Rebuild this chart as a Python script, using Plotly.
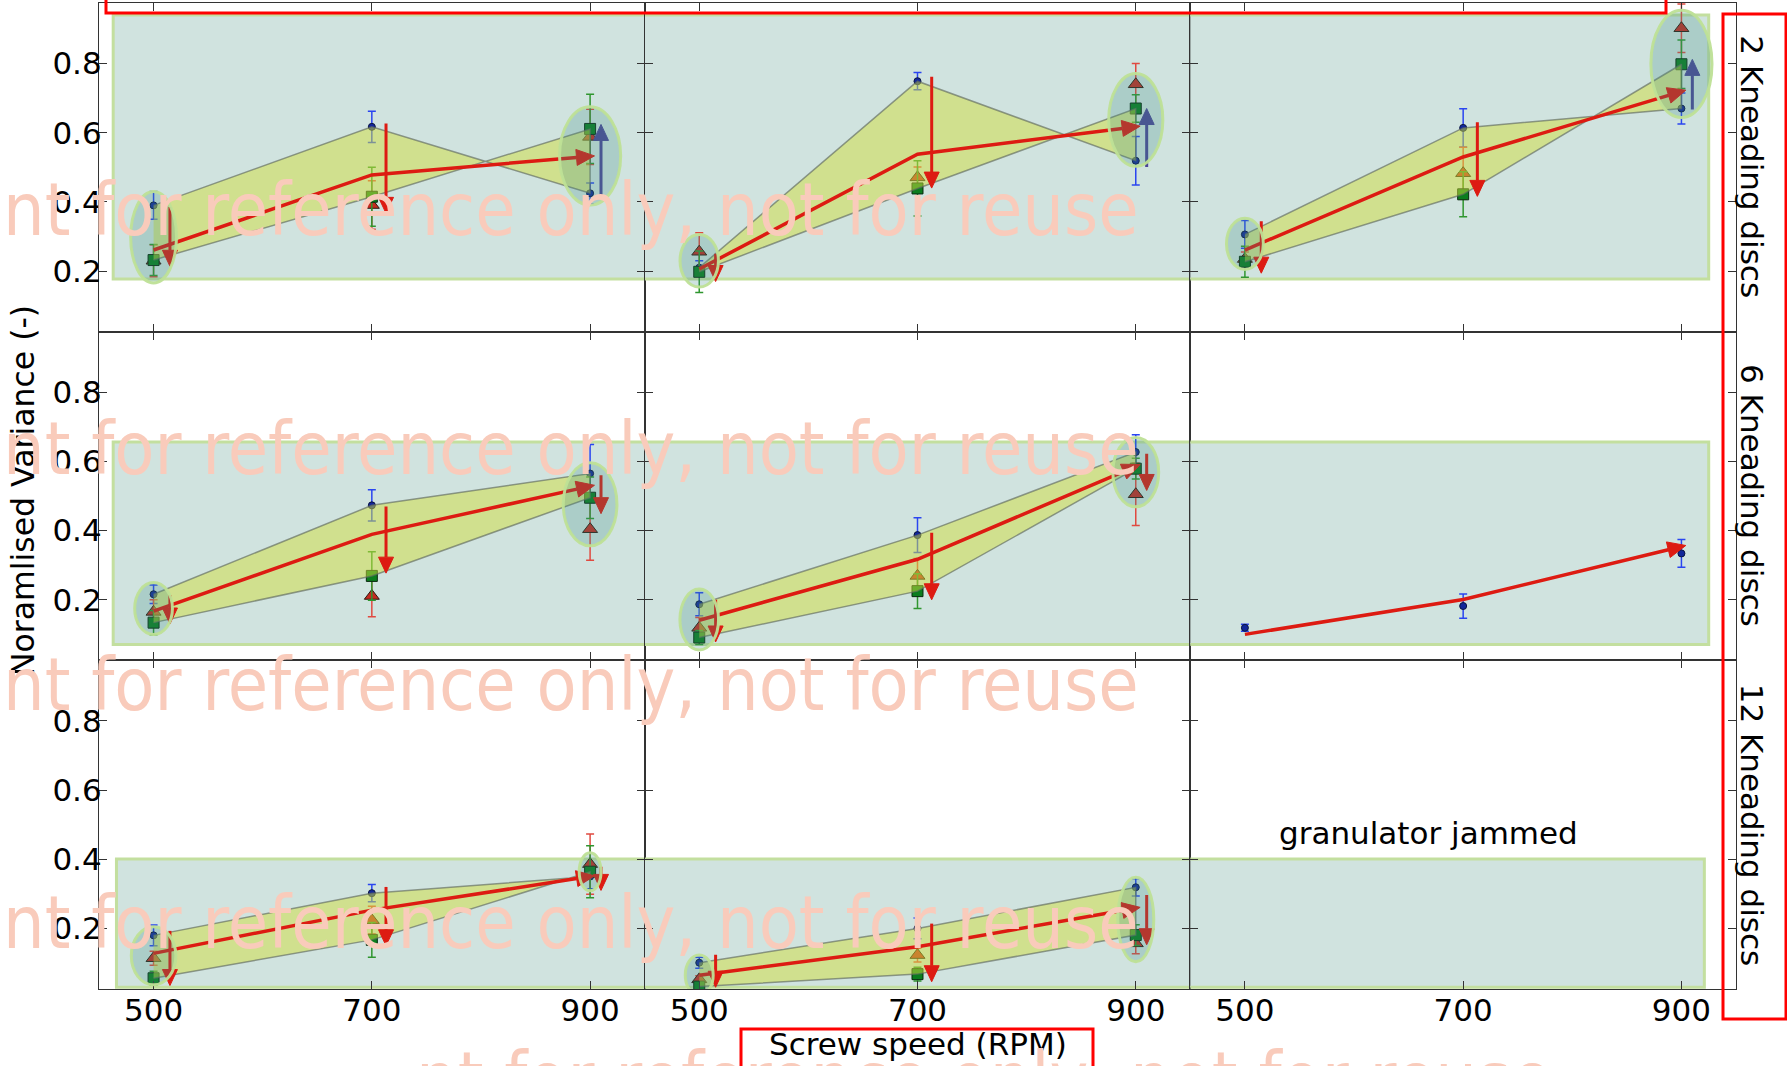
import math
import plotly.graph_objects as go
from plotly.subplots import make_subplots

# ---------------- data ----------------
speeds = [500, 700, 900]
row_labels = ["2 Kneading discs", "6 Kneading discs", "12 Kneading discs"]
y_ticks = [0.2, 0.4, 0.6, 0.8]
x_title = "Screw speed (RPM)"
y_title = "Noramlised Variance (-)"
jam_text = "granulator jammed"
watermark = "nt for reference only, not for reuse"

# panel order: row1 c1,c2,c3 ; row2 c1,c2,c3 ; row3 c1,c2  (row3 c3 = jammed)
panel_row = [0, 0, 0, 1, 1, 1, 2, 2]
panel_col = [0, 1, 2, 0, 1, 2, 0, 1]

blue_vals = [[0.390, 0.617, 0.425], [0.210, 0.749, 0.519], [0.306, 0.614, 0.670],
             [0.216, 0.473, 0.565], [0.187, 0.387, 0.627], [0.119, 0.182, 0.334],
             [0.180, 0.302, 0.350], [0.101, 0.200, 0.319]]
blue_err = [[0.040, 0.045, 0.030], [0.020, 0.025, 0.070], [0.040, 0.055, 0.045],
            [0.027, 0.045, 0.084], [0.033, 0.050, 0.050], [0.010, 0.035, 0.040],
            [0.030, 0.025, 0.035], [0.016, 0.030, 0.025]]
red_vals = [[0.230, 0.391, 0.588], [0.256, 0.471, 0.740], [0.235, 0.483, 0.902],
            [0.165, 0.211, 0.404], [0.119, 0.269, 0.505], None,
            [0.114, 0.224, 0.386], [0.053, 0.123, 0.157]]
red_err = [[0.046, 0.070, 0.080], [0.055, 0.030, 0.060], [0.020, 0.075, 0.070],
           [0.035, 0.060, 0.090], [0.030, 0.050, 0.090], None,
           [0.020, 0.040, 0.087], [0.010, 0.020, 0.030]]
green_vals = [[0.232, 0.415, 0.611], [0.198, 0.439, 0.670], [0.227, 0.422, 0.798],
              [0.134, 0.269, 0.495], [0.091, 0.225, 0.579], None,
              [0.056, 0.167, 0.364], [0.032, 0.068, 0.181]]
green_err = [[0.045, 0.085, 0.100], [0.060, 0.080, 0.040], [0.045, 0.065, 0.070],
             [0.035, 0.070, 0.060], [0.020, 0.050, 0.030], None,
             [0.020, 0.050, 0.075], [0.010, 0.020, 0.030]]
trend_vals = [[0.261, 0.478, 0.533], [0.206, 0.538, 0.619], [0.261, 0.530, 0.723],
              [0.167, 0.389, 0.531], [0.141, 0.317, 0.591], [0.100, 0.201, 0.357],
              [0.128, 0.253, 0.352], [0.065, 0.147, 0.261]]
# vertical change arrows: start and end value at each speed
shift_from = [[0.385, 0.627, 0.410], [0.250, 0.762, 0.501], [0.344, 0.630, 0.667],
              [0.213, 0.470, 0.560], [0.200, 0.394, 0.622], None,
              [0.193, 0.320, 0.378], [0.124, 0.214, 0.297]]
shift_to = [[0.214, 0.367, 0.624], [0.170, 0.440, 0.670], [0.194, 0.416, 0.812],
            [0.130, 0.277, 0.449], [0.078, 0.200, 0.516], None,
            [0.035, 0.150, 0.310], [0.030, 0.046, 0.153]]
# ellipses around the 500 and 900 RPM clusters: centre, half height, half width (RPM)
ell_centre = [[0.298, 0.533], [0.230, 0.637], [0.279, 0.799], [0.175, 0.476],
              [0.143, 0.569], None, [0.121, 0.364], [0.065, 0.226]]
ell_half_h = [[0.132, 0.142], [0.076, 0.134], [0.074, 0.155], [0.075, 0.120],
              [0.088, 0.100], None, [0.084, 0.055], [0.058, 0.122]]
ell_half_w = [[21, 28], [17.6, 24.8], [16.9, 28], [17.3, 24.6],
              [17.7, 21], None, [20.4, 10], [12.8, 16.5]]
# shaded band of each row
band_lo = [0.177, 0.071, 0.030]
band_hi = [0.940, 0.656, 0.401]
band_x_start = [463, 463, 466]
band_x_end = [925, 925, 921]

# ---------------- layout constants ----------------
W, H = 1787, 1066
ML, MR, MT, MB = 99, 51, 3, 77
PW = (W - ML - MR) / 3.0
PH = (H - MT - MB) / 3.0
XR = [450, 950]
YR = [0.025, 0.975]
SX = PW / (XR[1] - XR[0])
SY = PH / (YR[1] - YR[0])
FONT = "DejaVu Sans"


def pxx(x):
    return (x - ML) / (W - ML - MR)


def pyy(y):
    return 1 - (y - MT) / (H - MT - MB)


fig = make_subplots(rows=3, cols=3, horizontal_spacing=0, vertical_spacing=0)


def refs(r, c):
    i = r * 3 + c + 1
    return ("x" if i == 1 else f"x{i}"), ("y" if i == 1 else f"y{i}")


def add_arrow(pts, color, lw, hl, hw, r, c):
    # pts: list of (x, y) data points; arrowhead at last point
    (xa, ya), (xb, yb) = pts[-2], pts[-1]
    dx, dy = (xb - xa) * SX, (yb - ya) * SY
    L = math.hypot(dx, dy)
    ux, uy = dx / L, dy / L
    bx, by = xb - hl * ux / SX, yb - hl * uy / SY
    lx, ly = bx - uy * hw / 2 / SX, by + ux * hw / 2 / SY
    rx, ry = bx + uy * hw / 2 / SX, by - ux * hw / 2 / SY
    xs = [p[0] for p in pts[:-1]] + [bx]
    ys = [p[1] for p in pts[:-1]] + [by]
    fig.add_trace(go.Scatter(x=xs, y=ys, mode="lines", line=dict(color=color, width=lw),
                             hoverinfo="skip", showlegend=False), row=r + 1, col=c + 1)
    fig.add_trace(go.Scatter(x=[xb, lx, rx, xb], y=[yb, ly, ry, yb], mode="lines", fill="toself",
                             fillcolor=color, line=dict(color=color, width=1),
                             hoverinfo="skip", showlegend=False), row=r + 1, col=c + 1)


# shaded bands (one per panel, clipped so rows look continuous)
for r in range(3):
    for c in range(3):
        xr, yr = refs(r, c)
        x0 = band_x_start[r] if c == 0 else XR[0] - 10
        x1 = band_x_end[r] if c == 2 else XR[1] + 10
        fig.add_shape(type="rect", xref=xr, yref=yr, x0=x0, x1=x1, y0=band_lo[r], y1=band_hi[r],
                      fillcolor="#d0e3df", line=dict(color="#c3df9f", width=3), layer="below")

shift_dx = [15, 13, 10]

for p in range(8):
    r, c = panel_row[p], panel_col[p]
    xr, yr = refs(r, c)
    # data markers with error bars
    fig.add_trace(go.Scatter(x=speeds, y=blue_vals[p], mode="markers",
                             marker=dict(symbol="circle", size=7, color="#12279a",
                                         line=dict(color="#0a1440", width=1)),
                             error_y=dict(type="data", array=blue_err[p], color="#2a45f0",
                                          thickness=1.5, width=4),
                             showlegend=False), row=r + 1, col=c + 1)
    if red_vals[p] is not None:
        fig.add_trace(go.Scatter(x=speeds, y=red_vals[p], mode="markers",
                                 marker=dict(symbol="triangle-up", size=13, color="#c42a20",
                                             line=dict(color="#2a1a10", width=1)),
                                 error_y=dict(type="data", array=red_err[p], color="#e04a40",
                                              thickness=1.5, width=4),
                                 showlegend=False), row=r + 1, col=c + 1)
    if green_vals[p] is not None:
        fig.add_trace(go.Scatter(x=speeds, y=green_vals[p], mode="markers",
                                 marker=dict(symbol="square", size=11, color="#0b7d1e",
                                             line=dict(color="#0a2a10", width=1)),
                                 error_y=dict(type="data", array=green_err[p], color="#2f962f",
                                              thickness=1.5, width=4),
                                 showlegend=False), row=r + 1, col=c + 1)
        # envelope between the blue and green series
        fig.add_trace(go.Scatter(x=speeds + speeds[::-1], y=blue_vals[p] + green_vals[p][::-1],
                                 mode="lines", fill="toself", fillcolor="rgba(208,222,62,0.5)",
                                 line=dict(color="rgba(95,105,95,0.65)", width=1.5),
                                 hoverinfo="skip", showlegend=False), row=r + 1, col=c + 1)
    # trend line with arrow
    tv = trend_vals[p]
    add_arrow([(speeds[0], tv[0]), (speeds[1], tv[1]), (speeds[2] + 4, tv[2])],
              "#dd1b12", 3.5, 18, 16, r, c)
    # vertical change arrows
    if shift_from[p] is not None:
        for j in range(3):
            a, b = shift_from[p][j], shift_to[p][j]
            col = "#4c4597" if b > a else "#dd1b12"
            add_arrow([(speeds[j] + shift_dx[j], a), (speeds[j] + shift_dx[j], b)],
                      col, 3, 16, 15, r, c)
    # ellipses
    if ell_centre[p] is not None:
        for k, sp in enumerate([speeds[0], speeds[2]]):
            cy, hh, hw = ell_centre[p][k], ell_half_h[p][k], ell_half_w[p][k]
            fig.add_shape(type="circle", xref=xr, yref=yr, x0=sp - hw, x1=sp + hw,
                          y0=cy - hh, y1=cy + hh, fillcolor="rgba(60,140,130,0.25)",
                          line=dict(color="rgba(190,224,150,0.95)", width=3), layer="above")

# axes
axfont = dict(family=FONT, size=31, color="black")
fig.update_xaxes(range=XR, tickvals=speeds, ticks="inside", ticklen=8, tickwidth=1.2,
                 tickcolor="#333", showline=True, linecolor="#333", linewidth=1.2,
                 mirror="ticks", showgrid=False, zeroline=False, tickfont=axfont,
                 automargin=False, ticklabelstandoff=-6)
fig.update_yaxes(range=YR, tickvals=y_ticks, ticktext=[str(v) for v in y_ticks],
                 ticks="inside", ticklen=8, tickwidth=1.2,
                 tickcolor="#333", showline=True, linecolor="#333", linewidth=1.2,
                 mirror="ticks", showgrid=False, zeroline=False, tickfont=axfont,
                 automargin=False, ticklabelstandoff=-10)
for r in range(1, 3):
    for c in range(1, 4):
        fig.update_xaxes(showticklabels=False, row=r, col=c)
for r in range(1, 4):
    for c in range(2, 4):
        fig.update_yaxes(showticklabels=False, row=r, col=c)

ann = []
# row labels
for r, lab in enumerate(row_labels):
    ann.append(dict(text=lab, xref="paper", yref="paper", x=pxx(1752), y=1 - (r + 0.5) / 3,
                    textangle=90, showarrow=False, font=dict(family=FONT, size=31, color="black"),
                    xanchor="center", yanchor="middle"))
ann.append(dict(text=y_title, xref="paper", yref="paper", x=pxx(23), y=pyy(491), textangle=-90,
                showarrow=False, font=dict(family=FONT, size=31.5, color="black"),
                xanchor="center", yanchor="middle"))
ann.append(dict(text=x_title, xref="paper", yref="paper", x=pxx(918), y=pyy(1044),
                showarrow=False, font=dict(family=FONT, size=31, color="black"),
                xanchor="center", yanchor="middle"))
xr9, yr9 = refs(2, 2)
ann.append(dict(text=jam_text, xref=xr9, yref=yr9, x=668, y=0.476, showarrow=False,
                font=dict(family=FONT, size=31, color="black"), xanchor="center", yanchor="middle"))
# watermark
for ymid, xright in [(210, 1141), (449, 1141), (684, 1141), (922, 1141), (1078, 1554)]:
    ann.append(dict(text=watermark, xref="paper", yref="paper", x=pxx(xright), y=pyy(ymid),
                    showarrow=False, xanchor="right", yanchor="middle",
                    font=dict(family="DejaVu Sans Condensed, DejaVu Sans", size=73, color="#f9cbbb")))

# red highlight boxes
red = dict(color="#ff0000", width=3)
for x0, x1, y0, y1 in [(106, 1666, -30, 13), (1723, 1786, 14, 1019), (741, 1093, 1029, 1090)]:
    fig.add_shape(type="rect", xref="paper", yref="paper", x0=pxx(x0), x1=pxx(x1),
                  y0=pyy(y1), y1=pyy(y0), line=red, fillcolor="rgba(0,0,0,0)", layer="above")

fig.update_layout(width=W, height=H, margin=dict(l=ML, r=MR, t=MT, b=MB, autoexpand=False),
                  paper_bgcolor="white", plot_bgcolor="white", showlegend=False,
                  annotations=ann, font=dict(family=FONT))

fig.write_html("out.html", config={"displayModeBar": False},
               post_script="document.body.style.margin='0px';document.body.style.overflow='hidden';")
